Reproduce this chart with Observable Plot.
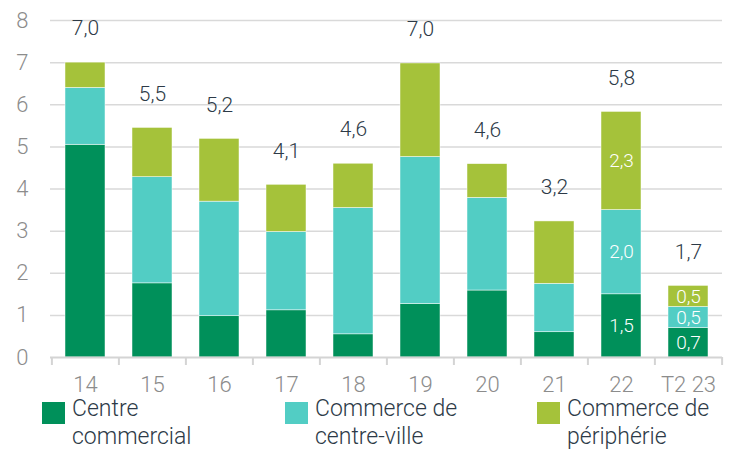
<!DOCTYPE html>
<html>
<head>
<meta charset="utf-8">
<script src="https://cdn.jsdelivr.net/npm/d3@7"></script>
<script src="https://cdn.jsdelivr.net/npm/@observablehq/plot@0.6"></script>
<style>
  html, body { margin: 0; padding: 0; background: #fff; }
  body { width: 745px; height: 455px; overflow: hidden; font-family: Roboto, "Noto Sans", sans-serif; }
  #chart svg { display: block; }
  #legend { position: relative; margin-top: -7px; width: 745px; height: 60px; color: #2d3a47; font-size: 23px; line-height: 28px; font-weight: 300; }
  .item { position: absolute; top: 0; }
  .sw { position: absolute; top: 7px; width: 23px; height: 22px; }
  .lab { position: absolute; top: 0; white-space: nowrap; }
</style>
</head>
<body>
<div id="chart"></div>
<div id="legend"></div>
<script>
const categories = ["14", "15", "16", "17", "18", "19", "20", "21", "22", "T2 23"];
const seriesNames = ["Centre commercial", "Commerce de centre-ville", "Commerce de périphérie"];
const centreCommercial = [5.05, 1.76, 0.98, 1.12, 0.55, 1.27, 1.59, 0.60, 1.50, 0.70];
const centreVille = [1.35, 2.52, 2.72, 1.86, 3.00, 3.49, 2.20, 1.15, 2.00, 0.50];
const peripherie = [0.60, 1.17, 1.49, 1.12, 1.05, 2.22, 0.80, 1.48, 2.33, 0.50];
const totals = [7.0, 5.5, 5.2, 4.1, 4.6, 7.0, 4.6, 3.2, 5.8, 1.7];
const labelledCategories = ["22", "T2 23"];
const yTicks = [0, 1, 2, 3, 4, 5, 6, 7, 8];
const colors = ["#00905a", "#52cdc4", "#a5c23a"];

const fmt = v => v.toFixed(1).replace(".", ",");
const seriesValues = [centreCommercial, centreVille, peripherie];
const data = [];
categories.forEach((c, i) => {
  seriesNames.forEach((s, j) => data.push({cat: c, series: s, value: seriesValues[j][i]}));
});
const sums = categories.map((c, i) => ({cat: c, sum: seriesValues.reduce((a, arr) => a + arr[i], 0), label: fmt(totals[i])}));

const width = 745, height = 402, ml = 50, mr = 23, mt = 20, mb = 45;
const step = (width - ml - mr) / categories.length;
const plotH = height - mt - mb;

const chart = Plot.plot({
  width, height,
  marginLeft: ml, marginRight: mr, marginTop: mt, marginBottom: mb,
  style: {fontFamily: "Roboto, 'Noto Sans', sans-serif", background: "transparent", fontWeight: 300},
  x: {domain: categories, paddingInner: 0.41, paddingOuter: 0.205, label: null},
  y: {domain: [0, 8], label: null},
  color: {domain: seriesNames, range: colors},
  marks: [
    Plot.gridY(yTicks.filter(d => d > 0), {stroke: "#d9d9d9", strokeOpacity: 1, strokeWidth: 1.5}),
    Plot.axisY(yTicks, {tickSize: 0, tickPadding: 22, fontSize: 22, fill: "#8c8c8c", label: null}),
    Plot.axisX({tickSize: 0, tickPadding: 19, fontSize: 22, fill: "#8c8c8c", label: null}),
    Plot.barY(data, {x: "cat", y: "value", fill: "series", stroke: "#ffffff", strokeWidth: 0.6, strokeOpacity: 0.8}),
    Plot.ruleY([0], {stroke: "#d4d4d4", strokeWidth: 2}),
    Plot.ruleX(categories, {x: d => d, dx: -step / 2, insetTop: plotH, insetBottom: -8, stroke: "#d4d4d4", strokeWidth: 2}),
    Plot.ruleX(categories.slice(-1), {x: d => d, dx: step / 2, insetTop: plotH, insetBottom: -8, stroke: "#d4d4d4", strokeWidth: 2}),
    Plot.text(data, Plot.stackY({x: "cat", y: "value", z: "series", text: d => fmt(d.value), filter: d => labelledCategories.includes(d.cat), fill: "#ffffff", fontSize: 19, fontWeight: 300})),
    Plot.text(sums, {x: "cat", y: "sum", text: "label", dy: -34, fontSize: 21, fill: "#2d3a47"})
  ]
});
document.getElementById("chart").appendChild(chart);

const legendX = [42, 285, 537];
const legendLines = [["Centre", "commercial"], ["Commerce de", "centre-ville"], ["Commerce de", "périphérie"]];
const legend = document.getElementById("legend");
seriesNames.forEach((s, i) => {
  const item = document.createElement("div");
  item.className = "item";
  item.style.left = legendX[i] + "px";
  const sw = document.createElement("div");
  sw.className = "sw";
  sw.style.background = colors[i];
  const lab = document.createElement("div");
  lab.className = "lab";
  lab.style.left = "30px";
  lab.innerHTML = legendLines[i].join("<br>");
  item.appendChild(sw);
  item.appendChild(lab);
  legend.appendChild(item);
});
</script>
</body>
</html>
